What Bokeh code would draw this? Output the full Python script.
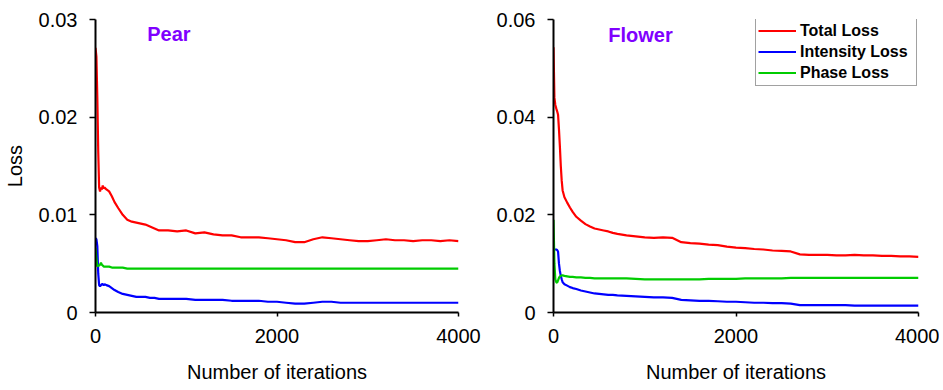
from bokeh.plotting import figure
from bokeh.layouts import row
from bokeh.models import Range1d, FixedTicker, CustomJSTickFormatter, Label, Legend, LegendItem
from bokeh.embed import file_html
from bokeh.resources import INLINE

# ---------------- data ----------------
iters = ([0, 10, 20, 30, 40, 50, 60, 70, 80, 90, 100]
         + [120, 150, 180, 210, 250]
         + [300, 350, 400, 450, 500, 550, 600, 650, 700]
         + list(range(800, 4001, 100)))

pear_total = ([.0271, .0262, .0220, .0165, .0128, .0124, .0128, .0126, .0130, .0127, .0128]
              + [.0126, .0124, .0119, .0113, .0107]
              + [.0100, .0095, .0093, .0092, .0091, .0090, .0088, .0086, .0084]
              + [.0084, .0083, .0084, .0081, .0082, .0080, .0079, .0079, .0077, .0077, .0077,
                 .0076, .0075, .0074, .0072, .0072, .0075, .0077, .0076, .0075, .0074, .0073,
                 .0073, .0074, .0075, .0074, .0074, .0073, .0074, .0074, .0073, .0074, .0073])
pear_intensity = ([.0076, .0075, .0068, .0040, .0028, .0027, .0028, .0029, .0029, .0028, .0029]
                  + [.0028, .0027, .0025, .0023, .0021]
                  + [.0019, .0018, .0017, .0016, .0016, .0016, .0015, .0015, .0014]
                  + [.0014, .0014, .0014, .0013, .0013, .0013, .0013, .0012, .0012, .0012, .0012,
                     .0011, .0011, .0010, .0009, .0009, .0010, .0011, .0011, .0010]
                  + [.0010] * 13)
pear_phase = ([.0066, .0055, .0047, .0048, .0048, .0049, .0051, .0049, .0048, .0047, .0047]
              + [.0047, .0047, .0046, .0046, .0046]
              + [.0046] + [.0045] * 8
              + [.0045] * 33)

flower_total = ([.0543, .0440, .0425, .0418, .0412, .0405, .0375, .0340, .0300, .0270, .0250]
                + [.0236, .0225, .0215, .0206, .0196]
                + [.0188, .0181, .0176, .0172, .0170, .0168, .0166, .0163, .0161]
                + [.0158, .0156, .0154, .0153, .0154, .0153, .0144, .0142, .0141, .0139, .0138,
                   .0135, .0133, .0132, .0130, .0129, .0127, .0126, .0125, .0119, .0118, .0118,
                   .0118, .0117, .0117, .0118, .0117, .0117, .0116, .0116, .0115, .0115, .0114])
flower_intensity = ([.0130, .0129, .0129, .0129, .0128, .0125, .0100, .0085, .0075, .0068, .0062]
                    + [.0058, .0055, .0052, .0050, .0048]
                    + [.0045, .0043, .0041, .0039, .0038, .0037, .0036, .0036, .0035]
                    + [.0034, .0033, .0032, .0031, .0031, .0030]
                    + [.0026, .0025, .0024, .0024, .0023, .0022, .0022, .0021, .0020, .0020,
                       .0019, .0019, .0018]
                    + [.0015] * 6 + [.0014] * 8)
flower_phase = ([.0190, .0100, .0068, .0062, .0061, .0066, .0071, .0074, .0075, .0076, .0076]
                + [.0075, .0074, .0073, .0073, .0072]
                + [.0072, .0071, .0071, .0070, .0070, .0070, .0070, .0070, .0070]
                + [.0070, .0069] + [.0068] * 7 + [.0069] * 4 + [.0070] * 5 + [.0071] * 15)

x_ticks = [0, 2000, 4000]
pear_y_ticks = [0, 0.01, 0.02, 0.03]
flower_y_ticks = [0, 0.02, 0.04, 0.06]
series_names = ["Total Loss", "Intensity Loss", "Phase Loss"]
series_colors = ["#FF0000", "#0000FF", "#00CC00"]

FONT = "Liberation Sans"


def style(p, yticks):
    p.xaxis.ticker = FixedTicker(ticks=x_ticks)
    p.yaxis.ticker = FixedTicker(ticks=yticks)
    p.xaxis.formatter = CustomJSTickFormatter(code="return tick.toFixed(0);")
    p.yaxis.formatter = CustomJSTickFormatter(code="return tick == 0 ? '0' : tick.toFixed(2);")
    for ax in (p.xaxis, p.yaxis):
        ax.axis_line_color = "black"
        ax.axis_line_width = 2
        ax.major_tick_line_color = "black"
        ax.major_tick_line_width = 1.5
        ax.minor_tick_line_color = None
        ax.major_tick_in = 0
        ax.major_label_text_font = FONT
        ax.major_label_text_font_size = "20px"
        ax.major_label_text_color = "black"
        ax.axis_label_text_font = FONT
        ax.axis_label_text_font_size = "20px"
        ax.axis_label_text_font_style = "normal"
        ax.axis_label_text_color = "black"
    p.xaxis.major_tick_out = 4
    p.yaxis.major_tick_out = 6
    p.xaxis.major_label_standoff = 12
    p.yaxis.major_label_standoff = 12
    p.xaxis.axis_label_standoff = 15
    p.yaxis.axis_label_standoff = 10
    p.xgrid.grid_line_color = None
    p.ygrid.grid_line_color = None
    p.outline_line_color = None
    p.background_fill_color = "white"
    p.border_fill_color = "white"


p1 = figure(frame_width=363, frame_height=293, min_border_left=93, min_border_right=30,
            min_border_top=19, min_border_bottom=76,
            x_range=Range1d(0, 4000), y_range=Range1d(0, 0.03),
            output_backend="svg", toolbar_location=None)
style(p1, pear_y_ticks)
p1.xaxis.axis_label = "Number of iterations"
p1.yaxis.axis_label = "Loss"
for ys, c in zip([pear_total, pear_intensity, pear_phase], series_colors):
    p1.line(iters, ys, line_color=c, line_width=2.2)
p1.add_layout(Label(x=570, y=0.0285, text="Pear", text_font=FONT, text_font_size="20px",
                    text_font_style="bold", text_color="#8000FF", text_baseline="alphabetic"))

p2 = figure(frame_width=365, frame_height=293, min_border_left=65, min_border_right=21,
            min_border_top=19, min_border_bottom=76,
            x_range=Range1d(0, 4000), y_range=Range1d(0, 0.06),
            output_backend="svg", toolbar_location=None)
style(p2, flower_y_ticks)
p2.xaxis.axis_label = "Number of iterations"
renderers = []
for ys, c in zip([flower_total, flower_intensity, flower_phase], series_colors):
    renderers.append(p2.line(iters, ys, line_color=c, line_width=2.2))
p2.add_layout(Label(x=600, y=0.0569, text="Flower", text_font=FONT, text_font_size="20px",
                    text_font_style="bold", text_color="#8000FF", text_baseline="alphabetic"))

legend = Legend(items=[LegendItem(label=n, renderers=[r]) for n, r in zip(series_names, renderers)],
                location=(202, 226), border_line_color="#444444", border_line_width=1.5,
                label_text_font=FONT, label_text_font_size="16px", label_text_font_style="bold",
                label_text_color="black", glyph_width=38, glyph_height=21, label_height=21,
                label_width=114, label_standoff=4, spacing=0, padding=2, margin=0,
                background_fill_alpha=1)
p2.add_layout(legend)

layout = row(p1, p2)
open("out.html", "w").write(file_html(layout, INLINE))
